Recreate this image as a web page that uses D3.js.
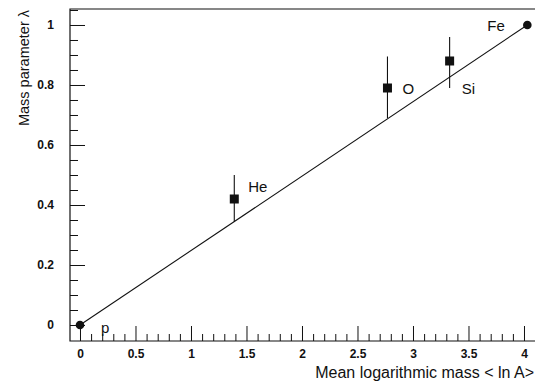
<!DOCTYPE html>
<html>
<head>
<meta charset="utf-8">
<script src="https://cdn.jsdelivr.net/npm/d3@7"></script>
<style>
  html, body { margin: 0; padding: 0; background: #fff; }
  svg { display: block; }
  text { font-family: "Liberation Sans", Arial, Helvetica, sans-serif; fill: #111; }
</style>
</head>
<body>
<svg id="chart" width="535" height="383"></svg>
<script>
// ---- data ----
const elements = ["p", "He", "O", "Si", "Fe"];
const meanLnA = [0, 1.39, 2.77, 3.33, 4.03];
const lambdaVals = [0, 0.42, 0.79, 0.88, 1.0];
const errLow = [null, 0.345, 0.69, 0.79, null];
const errHigh = [null, 0.50, 0.895, 0.96, null];
const markerType = ["circle", "square", "square", "square", "circle"];
const fitLine = [[0, 0], [4.03, 1.0]];
const xTickLabels = ["0", "0.5", "1", "1.5", "2", "2.5", "3", "3.5", "4"];
const yTickLabels = ["0", "0.2", "0.4", "0.6", "0.8", "1"];
const xTitle = "Mean logarithmic mass < ln A>";
const yTitle = "Mass parameter λ";

// ---- layout ----
const svg = d3.select("#chart");
const x = d3.scaleLinear().domain([-0.09, 4.1]).range([70, 535.1]);
const y = d3.scaleLinear().domain([-0.0533, 1.0533]).range([341, 9]);
const ink = "#111";

// frame: top line, left axis line, bottom axis line
svg.append("path")
  .attr("d", `M${x.range()[1]},${y(y.domain()[1])} H${x(x.domain()[0])} V${y(y.domain()[0])} H${x.range()[1]}`)
  .attr("fill", "none").attr("stroke", ink).attr("stroke-width", 1.2);

// x axis: minor ticks
const xMinor = d3.range(0, 41).map(i => i / 10).filter(v => Math.round(v * 10) % 5 !== 0);
svg.append("g").attr("transform", `translate(0,${y(y.domain()[0])})`)
  .call(d3.axisTop(x).tickValues(xMinor).tickSize(7).tickFormat(""))
  .call(g => g.select(".domain").remove())
  .call(g => g.selectAll("line").attr("stroke", ink).attr("stroke-width", 1));
// x axis: major ticks
const xMajor = xTickLabels.map(Number);
svg.append("g").attr("transform", `translate(0,${y(y.domain()[0])})`)
  .call(d3.axisTop(x).tickValues(xMajor).tickSize(15).tickFormat(""))
  .call(g => g.select(".domain").remove())
  .call(g => g.selectAll("line").attr("stroke", ink).attr("stroke-width", 1));
svg.append("g").attr("transform", `translate(0,${y(y.domain()[0])})`)
  .call(d3.axisBottom(x).tickValues(xMajor).tickSize(0).tickPadding(8)
        .tickFormat((d, i) => xTickLabels[i]))
  .call(g => g.select(".domain").remove())
  .call(g => g.selectAll("text").attr("font-size", 12).attr("font-weight", "bold")
        .style("font-family", "'Liberation Sans', Arial, sans-serif").attr("fill", ink));

// y axis: minor ticks
const yMinor = d3.range(0, 22).map(i => i / 20).filter(v => Math.round(v * 20) % 4 !== 0);
svg.append("g").attr("transform", `translate(${x(x.domain()[0])},0)`)
  .call(d3.axisRight(y).tickValues(yMinor).tickSize(8).tickFormat(""))
  .call(g => g.select(".domain").remove())
  .call(g => g.selectAll("line").attr("stroke", ink).attr("stroke-width", 1));
const yMajor = yTickLabels.map(Number);
svg.append("g").attr("transform", `translate(${x(x.domain()[0])},0)`)
  .call(d3.axisRight(y).tickValues(yMajor).tickSize(15).tickFormat(""))
  .call(g => g.select(".domain").remove())
  .call(g => g.selectAll("line").attr("stroke", ink).attr("stroke-width", 1));
svg.append("g").attr("transform", `translate(${x(x.domain()[0])},0)`)
  .call(d3.axisLeft(y).tickValues(yMajor).tickSize(0).tickPadding(16)
        .tickFormat((d, i) => yTickLabels[i]))
  .call(g => g.select(".domain").remove())
  .call(g => g.selectAll("text").attr("font-size", 12).attr("font-weight", "bold")
        .style("font-family", "'Liberation Sans', Arial, sans-serif").attr("fill", ink));

// axis titles
svg.append("text")
  .attr("x", 534).attr("y", 378).attr("text-anchor", "end")
  .attr("font-size", 16).text(xTitle);
svg.append("text")
  .attr("transform", `translate(29,10) rotate(-90)`)
  .attr("text-anchor", "end").attr("font-size", 14.5).text(yTitle);

// fit line
svg.append("line")
  .attr("x1", x(fitLine[0][0])).attr("y1", y(fitLine[0][1]))
  .attr("x2", x(fitLine[1][0])).attr("y2", y(fitLine[1][1]))
  .attr("stroke", ink).attr("stroke-width", 1.1);

// error bars
elements.forEach((e, i) => {
  if (errLow[i] == null) return;
  svg.append("line")
    .attr("x1", x(meanLnA[i])).attr("x2", x(meanLnA[i]))
    .attr("y1", y(errLow[i])).attr("y2", y(errHigh[i]))
    .attr("stroke", ink).attr("stroke-width", 1.1);
});

// markers
elements.forEach((e, i) => {
  const cx = x(meanLnA[i]), cy = y(lambdaVals[i]);
  if (markerType[i] === "circle") {
    svg.append("circle").attr("cx", cx).attr("cy", cy).attr("r", 4.3).attr("fill", ink);
  } else {
    svg.append("rect").attr("x", cx - 4.5).attr("y", cy - 4.5)
      .attr("width", 9).attr("height", 9).attr("fill", ink);
  }
});

// element labels (pixel offsets from the marker)
const labelOffset = { p: [21, 8], He: [14, -7], O: [15, 6], Si: [12, 33], Fe: [-40, 6] };
elements.forEach((e, i) => {
  const [dx, dy] = labelOffset[e];
  svg.append("text")
    .attr("x", x(meanLnA[i]) + dx).attr("y", y(lambdaVals[i]) + dy)
    .attr("font-size", 15).text(e);
});
</script>
</body>
</html>
